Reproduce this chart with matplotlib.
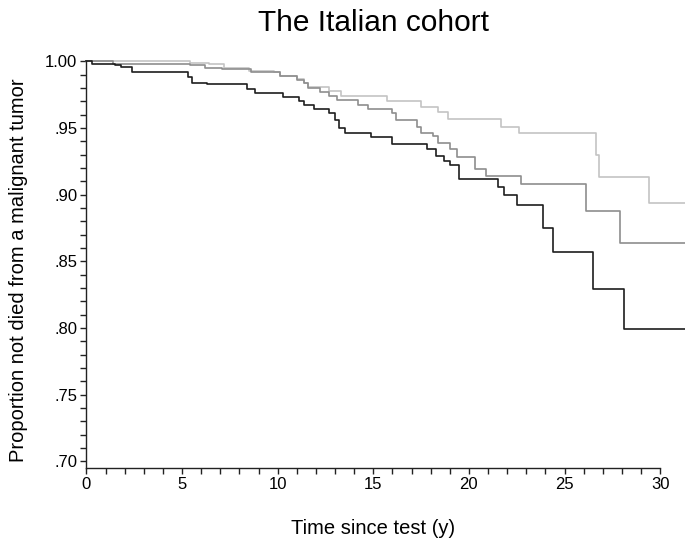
import matplotlib.pyplot as plt
from matplotlib.ticker import FixedLocator, FuncFormatter

plt.rcParams['font.family'] = ['Liberation Sans', 'DejaVu Sans']

# step times (y) and survival values for the three groups
black_t = [0, 0.3, 1.5, 1.8, 2.4, 5.3, 5.5, 6.3, 8.4, 8.8, 10.3, 11.1, 11.4, 11.9, 12.7,
           13.0, 13.2, 13.5, 14.9, 16.0, 17.8, 18.3, 18.7, 19.0, 19.5, 21.5, 21.85, 22.5,
           23.9, 24.4, 26.5, 28.1]
black_v = [1.000, 0.998, 0.997, 0.996, 0.992, 0.988, 0.984, 0.983, 0.979, 0.976, 0.973,
           0.970, 0.967, 0.964, 0.961, 0.956, 0.950, 0.946, 0.943, 0.938, 0.934, 0.929,
           0.925, 0.922, 0.912, 0.906, 0.900, 0.892, 0.875, 0.857, 0.829, 0.799]

mid_t = [0, 1.4, 5.4, 6.2, 7.1, 8.6, 10.1, 11.0, 11.4, 11.6, 12.2, 12.7, 13.1, 14.2, 14.7,
         16.0, 16.2, 17.3, 17.5, 18.1, 18.4, 19.0, 19.4, 20.3, 20.9, 22.7, 26.1, 27.9]
mid_v = [1.000, 0.998, 0.997, 0.995, 0.994, 0.992, 0.989, 0.986, 0.984, 0.980, 0.977,
         0.974, 0.971, 0.967, 0.964, 0.961, 0.956, 0.951, 0.946, 0.944, 0.939, 0.934,
         0.928, 0.919, 0.914, 0.908, 0.888, 0.864]

light_t = [0, 5.4, 6.4, 7.2, 8.5, 9.8, 10.1, 11.0, 11.4, 11.6, 12.7, 13.3, 15.7, 17.5,
           18.4, 18.9, 21.7, 22.6, 26.65, 26.8, 29.4]
light_v = [1.000, 0.999, 0.998, 0.995, 0.993, 0.992, 0.989, 0.987, 0.984, 0.981, 0.978,
           0.974, 0.970, 0.966, 0.962, 0.957, 0.951, 0.946, 0.930, 0.913, 0.894]

t_end = 31.3
x_ticks = [0, 5, 10, 15, 20, 25, 30]
y_ticks = [0.70, 0.75, 0.80, 0.85, 0.90, 0.95, 1.00]

fig = plt.figure(figsize=(6.85, 5.46), dpi=100)
ax = fig.add_axes([0.1261, 0.1429, 0.8739, 0.7445])

for t, v, col in [(light_t, light_v, '#c4c4c4'),
                  (mid_t, mid_v, '#8e8e8e'),
                  (black_t, black_v, '#1e1e1e')]:
    ax.step(t + [t_end], v + [v[-1]], where='post', color=col, lw=1.2, clip_on=False)

ax.set_xlim(0, t_end)
ax.set_ylim(0.695, 1.0)

for side in ['top', 'right']:
    ax.spines[side].set_visible(False)
ax.spines['bottom'].set_bounds(0, 30)
for side in ['left', 'bottom']:
    ax.spines[side].set_linewidth(1.0)
    ax.spines[side].set_color('#222222')

ax.xaxis.set_major_locator(FixedLocator(x_ticks))
ax.xaxis.set_minor_locator(FixedLocator(range(0, 31)))
ax.yaxis.set_major_locator(FixedLocator(y_ticks))
ax.yaxis.set_minor_locator(FixedLocator([0.70 + 0.01 * i for i in range(31)]))
ax.yaxis.set_major_formatter(FuncFormatter(lambda v, p: f"{v:.2f}".lstrip('0')))

ax.tick_params(which='both', direction='out', length=4.5, width=1.0, color='#222222',
               labelsize=12, pad=2)

# title and labels placed like the original
fig.text(0.545, 0.958, 'The Italian cohort', ha='center', va='center', fontsize=21.5)
fig.text(0.545, 0.032, 'Time since test (y)', ha='center', va='center', fontsize=14.5)
fig.text(0.027, 0.505, 'Proportion not died from a malignant tumor', ha='center',
         va='center', rotation=90, fontsize=14.5)

fig.savefig('out.png', dpi=100)
